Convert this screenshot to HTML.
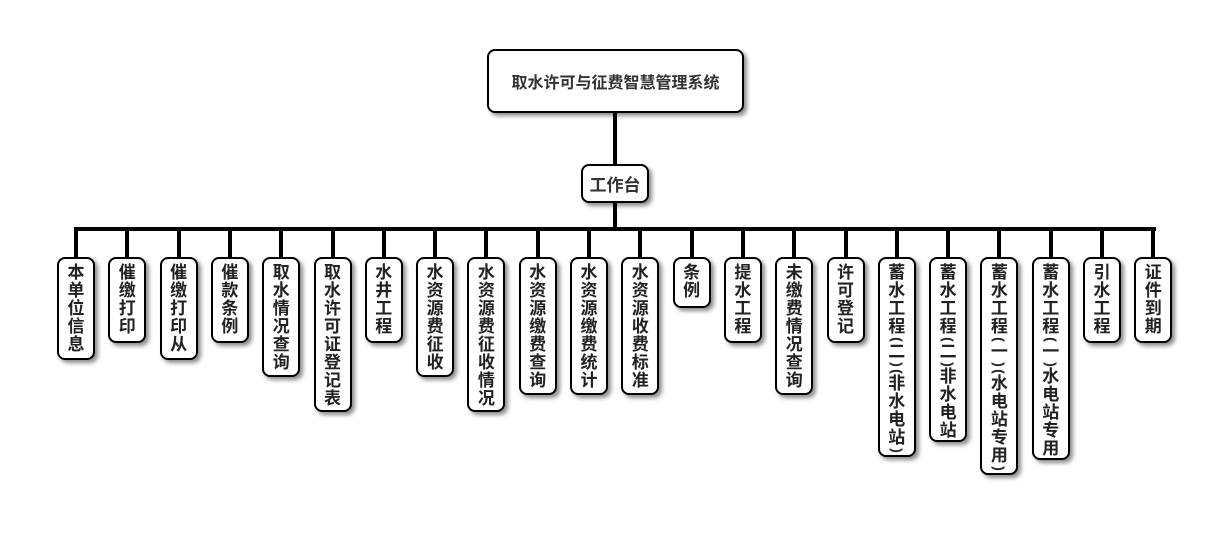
<!DOCTYPE html>
<html><head><meta charset="utf-8"><style>
body{margin:0;width:1230px;height:560px;background:#fff;position:relative;overflow:hidden;font-family:"Liberation Sans","Noto Sans CJK SC",sans-serif;}
.b{position:absolute;box-sizing:border-box;border:2px solid #000;border-radius:8px;background:#fff;box-shadow:3px 3px 4px rgba(0,0,0,0.45);display:flex;align-items:center;justify-content:center;font-weight:bold;color:#222;}
.v{flex-direction:column;justify-content:flex-start;padding-top:5px;font-size:17px;overflow:hidden;}
.v span{display:block;height:18px;line-height:18px;text-align:center;width:20px;}
.v span.p{height:7px;line-height:7px;transform:rotate(90deg);font-size:14px;}
.l{position:absolute;background:#000;}
</style></head><body>
<div class="b" style="left:487px;top:49px;width:257px;height:64px;font-size:16px;color:#333;">取水许可与征费智慧管理系统</div>
<div class="l" style="left:613px;top:112px;width:4px;height:53px;"></div>
<div class="b" style="left:581px;top:164px;width:68px;height:39px;font-size:17px;color:#333;">工作台</div>
<div class="l" style="left:613px;top:202px;width:4px;height:28px;"></div>
<div class="l" style="left:74px;top:227px;width:1082px;height:4px;"></div>
<div id="c"></div>
<script>
var d=[["本单位信息",360],["催缴打印",343],["催缴打印从",360],["催款条例",343],["取水情况查询",377],["取水许可证登记表",412],["水井工程",343],["水资源费征收",377],["水资源费征收情况",412],["水资源缴费查询",395],["水资源缴费统计",395],["水资源收费标准",395],["条例",308],["提水工程",343],["未缴费情况查询",395],["许可登记",343],["蓄水工程(二)(非水电站)",457],["蓄水工程(二)非水电站",442],["蓄水工程(一)(水电站专用)",475],["蓄水工程(一)水电站专用",460],["引水工程",343],["证件到期",343]];
var h="";
for(var i=0;i<d.length;i++){var cx=76+i*51.3;
var t="";for(var k=0;k<d[i][0].length;k++){var ch=d[i][0][k];t+=(ch=="("||ch==")")?'<span class="p">'+ch+'</span>':'<span>'+ch+'</span>';}
h+='<div class="l" style="left:'+(cx-2)+'px;top:229px;width:4px;height:30px;"></div>';
h+='<div class="b v" style="left:'+(cx-19)+'px;top:257px;width:38px;height:'+(d[i][1]-257)+'px;">'+t+'</div>';}
document.getElementById("c").innerHTML=h;
</script>
</body></html>
